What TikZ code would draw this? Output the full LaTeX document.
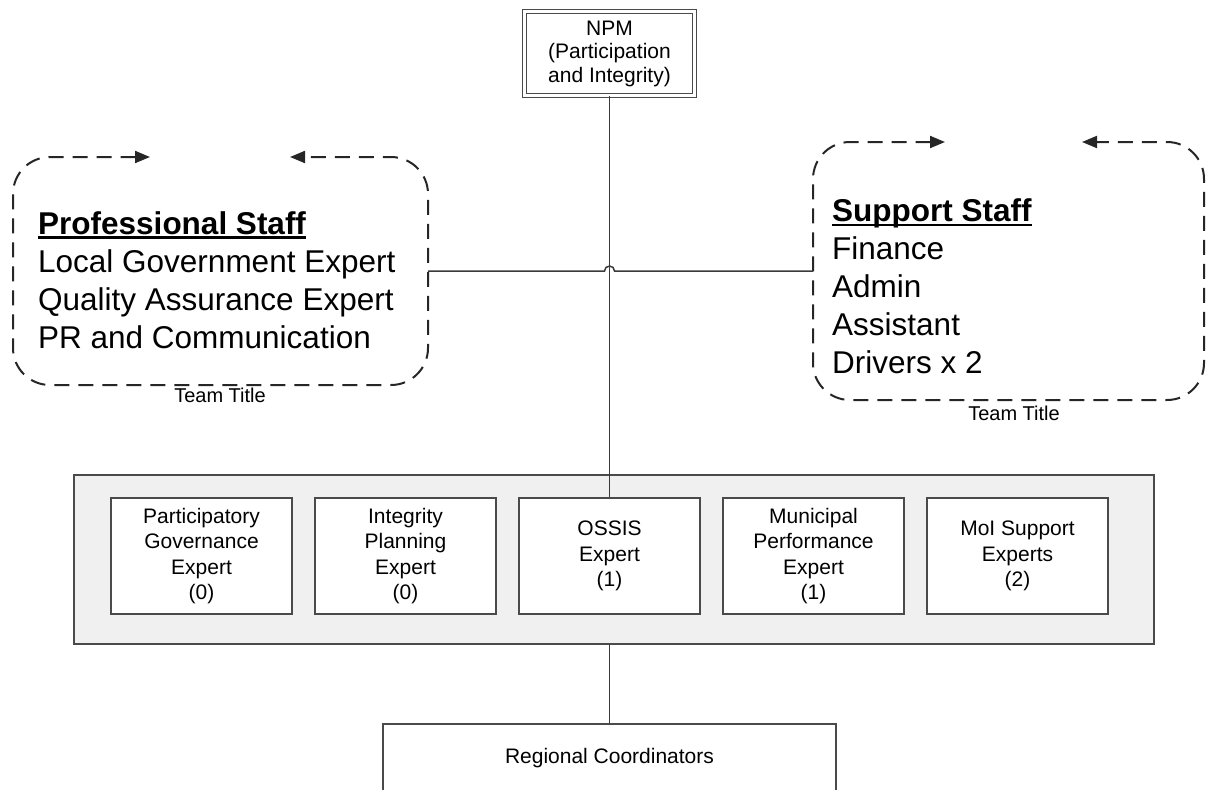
\documentclass[tikz,border=0pt]{standalone}
\usepackage{fontspec}
\setmainfont{Liberation Sans}
\usetikzlibrary{arrows.meta}
\definecolor{edgegray}{HTML}{4A4A4A}
\definecolor{linegray}{HTML}{3A3A3A}
\definecolor{panelgray}{HTML}{F0F0F0}
\newsavebox\headbox
\newcommand\staffhead[1]{\sbox\headbox{\bfseries #1}\rlap{\rule[-4.5pt]{\wd\headbox}{2.4pt}}\usebox\headbox}

\begin{document}
\begin{tikzpicture}[
  x=1pt, y=-1pt,
  boxfont/.style={font=\fontsize{21}{25.5}\selectfont},
  listfont/.style={font=\fontsize{31.5}{38}\selectfont, align=left, inner sep=0pt},
  titlefont/.style={font=\fontsize{20}{24}\selectfont, inner sep=0pt},
  npmbox/.style={draw=edgegray, double=white, double distance=2.4pt, line width=1.3pt, align=center, minimum width=170, minimum height=84, font=\fontsize{21}{23.5}\selectfont},
  rolebox/.style={draw=edgegray, line width=1.6pt, fill=white, align=center, minimum width=181, minimum height=116, inner sep=2pt, boxfont},
  panelbox/.style={draw=edgegray, line width=1.6pt, fill=panelgray, minimum width=1080, minimum height=169},
  teamarea/.style={inner sep=0pt, outer sep=0pt},
  teamline/.style={draw=black!85, line width=2pt, dash pattern=on 15pt off 9pt, rounded corners=37pt, {Triangle[length=15pt,width=12pt]}-{Triangle[length=15pt,width=12pt]}},
  link/.style={draw=linegray, line width=1.5pt}
]
\useasboundingbox (0,0) rectangle (1206,789);
\node[npmbox] (npm) at (609.5,53.7) {NPM\\(Participation\\and Integrity)};
\node[teamarea, minimum width=415, minimum height=228] (proframe) at (220.5,271) {};
\node[teamarea, minimum width=391, minimum height=258] (supframe) at (1008.5,271) {};
\coordinate (proarrowR) at (150,157);
\coordinate (proarrowL) at (290,157);
\coordinate (suparrowR) at (945,142);
\coordinate (suparrowL) at (1082,142);
\draw[teamline] (proarrowR) -- (proframe.north west) -- (proframe.south west) -- (proframe.south east) -- (proframe.north east) -- (proarrowL);
\draw[teamline] (suparrowR) -- (supframe.north west) -- (supframe.south west) -- (supframe.south east) -- (supframe.north east) -- (suparrowL);
\node[listfont, anchor=west] (proftext) at (38,280) {\staffhead{Professional Staff}\\Local Government Expert\\Quality Assurance Expert\\PR and Communication};
\node[listfont, anchor=west] (suptext) at (832,286.5) {\staffhead{Support Staff}\\Finance\\Admin\\Assistant\\Drivers x 2};
\node[titlefont] (proteam) at (220,395) {Team Title};
\node[titlefont] (supteam) at (1014,413) {Team Title};
\node[panelbox] (panel) at (614,559.5) {};
\node[rolebox] (partgov) at (201.5,556) {Participatory\\Governance\\Expert\\(0)};
\node[rolebox] (intplan) at (405.5,556) {Integrity\\Planning\\Expert\\(0)};
\node[rolebox] (ossis) at (609.5,556) {OSSIS\\Expert\\(1)};
\node[rolebox] (munperf) at (813.5,556) {Municipal\\Performance\\Expert\\(1)};
\node[rolebox] (moisup) at (1017.5,556) {MoI Support\\Experts\\(2)};
\node[rolebox, minimum width=453, minimum height=68] (regional) at (609.5,758) {Regional Coordinators};
\draw[link] (npm) -- (ossis);
\draw[link] (proframe.east) -- ([xshift=-5pt]npm.south |- proframe.east) arc[start angle=180, end angle=0, radius=5pt] -- (supframe.west);
\draw[link] (regional.north |- panel.south) -- (regional.north);
\end{tikzpicture}
\end{document}
